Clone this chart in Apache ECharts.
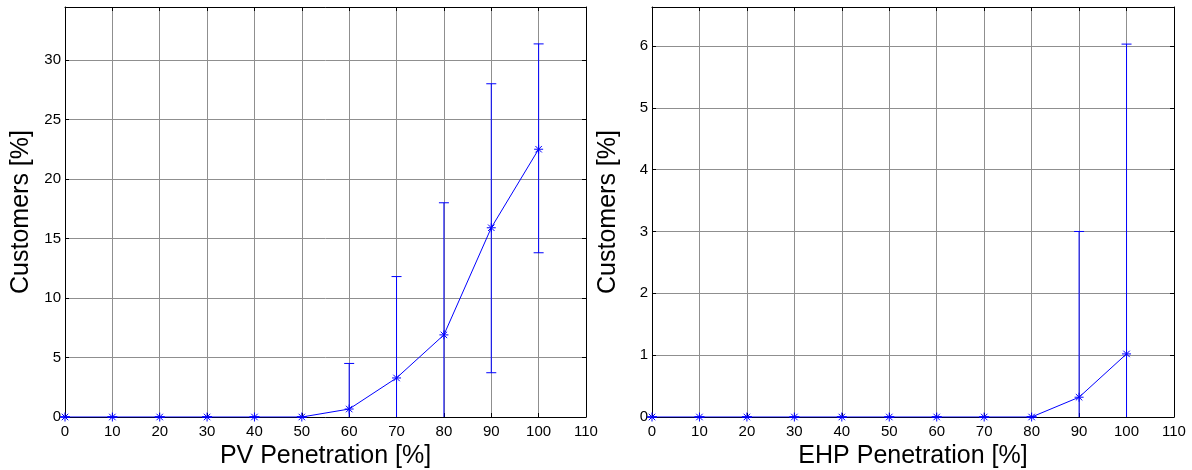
<!DOCTYPE html>
<html>
<head>
<meta charset="utf-8">
<script src="https://cdn.jsdelivr.net/npm/echarts@6/dist/echarts.min.js"></script>
<style>
html,body{margin:0;padding:0;background:#fff;}
#chart{width:1192px;height:470px;}
</style>
</head>
<body>
<div id="chart"></div>
<script>
// ---- data ----
const penetration = [0, 10, 20, 30, 40, 50, 60, 70, 80, 90, 100];
const pvMean  = [0, 0, 0, 0, 0, 0, 0.67, 3.28, 6.9, 15.9, 22.5];
const pvUpper = [0, 0, 0, 0, 0, 0, 4.5, 11.8, 18.0, 28.0, 31.35];
const pvLower = [0, 0, 0, 0, 0, 0, -3.2, -5.2, -4.2, 3.72, 13.8];
const ehpMean  = [0, 0, 0, 0, 0, 0, 0, 0, 0, 0.32, 1.02];
const ehpUpper = [0, 0, 0, 0, 0, 0, 0, 0, 0, 3.0, 6.03];
const ehpLower = [0, 0, 0, 0, 0, 0, 0, 0, 0, -2.36, -3.99];
const xTitles = ['PV Penetration [%]', 'EHP Penetration [%]'];
const yTitle = 'Customers [%]';

const BLUE = '#0000ff';
const FONT = '"Liberation Sans", Arial, sans-serif';

function errData(mean, lo, hi) {
  return penetration.map((x, i) => [x, mean[i], lo[i], hi[i]]);
}
function lineData(mean) {
  return penetration.map((x, i) => [x, mean[i]]);
}

function renderErr(params, api) {
  const x = api.value(0), m = api.value(1), lo = api.value(2), hi = api.value(3);
  const pm = api.coord([x, m]);
  const plo = api.coord([x, lo]);
  const phi = api.coord([x, hi]);
  const cs = params.coordSys;
  const top = cs.y, bottom = cs.y + cs.height;
  const cx = pm[0];
  const yLo = Math.min(plo[1], bottom);
  const yHi = Math.max(phi[1], top);
  const st = {stroke: BLUE, lineWidth: 1, fill: null};
  const ch = [];
  ch.push({type: 'line', shape: {x1: cx, y1: yLo, x2: cx, y2: yHi}, style: st});
  const cw = 5;
  if (phi[1] >= top) ch.push({type: 'line', shape: {x1: cx - cw, y1: phi[1], x2: cx + cw, y2: phi[1]}, style: st});
  if (plo[1] <= bottom) ch.push({type: 'line', shape: {x1: cx - cw, y1: plo[1], x2: cx + cw, y2: plo[1]}, style: st});
  // asterisk marker
  const r = 4.5, d = r * 0.72;
  const my = pm[1];
  ch.push({type: 'line', shape: {x1: cx - r, y1: my, x2: cx + r, y2: my}, style: st});
  ch.push({type: 'line', shape: {x1: cx, y1: my - r, x2: cx, y2: my + r}, style: st});
  ch.push({type: 'line', shape: {x1: cx - d, y1: my - d, x2: cx + d, y2: my + d}, style: st});
  ch.push({type: 'line', shape: {x1: cx - d, y1: my + d, x2: cx + d, y2: my - d}, style: st});
  return {type: 'group', children: ch};
}

const tickStyle = {inside: true, length: 4, lineStyle: {color: '#000', width: 1}};
const gridLine = {show: true, lineStyle: {color: '#8f8f8f', width: 1, type: 'solid'}};
const axLine = {show: true, onZero: false, lineStyle: {color: '#000', width: 1}};
const lblStyle = {color: '#000', fontFamily: FONT, fontSize: 15};

function xAxes(gi, title) {
  return [
    {type: 'value', gridIndex: gi, min: 0, max: 110, interval: 10, position: 'bottom',
     axisLine: axLine, axisTick: tickStyle, splitLine: gridLine,
     axisLabel: Object.assign({margin: 7}, lblStyle),
     name: title, nameLocation: 'middle', nameGap: 26,
     nameTextStyle: {color: '#000', fontFamily: FONT, fontSize: 25}},
    {type: 'value', gridIndex: gi, min: 0, max: 110, interval: 10, position: 'top',
     axisLine: axLine, axisTick: tickStyle, splitLine: {show: false}, axisLabel: {show: false}}
  ];
}
function yAxes(gi, max, interval) {
  const fmt = v => (Math.abs(v / interval - Math.round(v / interval)) < 1e-6 ? String(v) : '');
  return [
    {type: 'value', gridIndex: gi, min: 0, max: max, interval: interval, position: 'left',
     axisLine: axLine, axisTick: tickStyle, splitLine: gridLine,
     axisLabel: Object.assign({margin: 4, formatter: fmt, showMaxLabel: false}, lblStyle),
     name: yTitle, nameLocation: 'middle', nameGap: 31, nameRotate: 90,
     nameTextStyle: {color: '#000', fontFamily: FONT, fontSize: 25}},
    {type: 'value', gridIndex: gi, min: 0, max: max, interval: interval, position: 'right',
     axisLine: axLine, axisTick: tickStyle, splitLine: {show: false}, axisLabel: {show: false}}
  ];
}

const chart = echarts.init(document.getElementById('chart'), null, {renderer: 'canvas'});
chart.setOption({
  animation: false,
  backgroundColor: '#fff',
  grid: [
    {left: 65, top: 7, width: 521, height: 410, outerBoundsMode: 'none', containLabel: false},
    {left: 652, top: 7, width: 522, height: 410, outerBoundsMode: 'none', containLabel: false}
  ],
  xAxis: [].concat(xAxes(0, xTitles[0]), xAxes(1, xTitles[1])),
  yAxis: [].concat(yAxes(0, 34.45, 5), yAxes(1, 6.63, 1)),
  series: [
    {type: 'line', xAxisIndex: 0, yAxisIndex: 0, data: lineData(pvMean), showSymbol: false,
     lineStyle: {color: BLUE, width: 1}, itemStyle: {color: BLUE}},
    {type: 'custom', xAxisIndex: 0, yAxisIndex: 0, data: errData(pvMean, pvLower, pvUpper),
     renderItem: renderErr, encode: {x: 0, y: 1}},
    {type: 'line', xAxisIndex: 2, yAxisIndex: 2, data: lineData(ehpMean), showSymbol: false,
     lineStyle: {color: BLUE, width: 1}, itemStyle: {color: BLUE}},
    {type: 'custom', xAxisIndex: 2, yAxisIndex: 2, data: errData(ehpMean, ehpLower, ehpUpper),
     renderItem: renderErr, encode: {x: 0, y: 1}}
  ]
});
</script>
</body>
</html>
